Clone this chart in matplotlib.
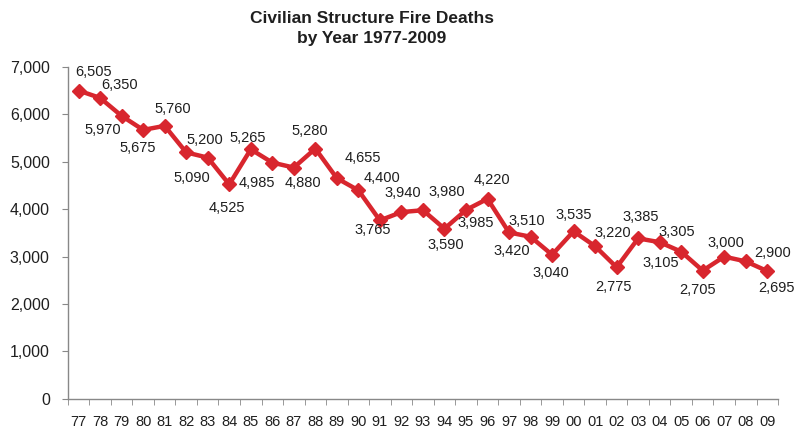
import numpy as np
import matplotlib
matplotlib.use("Agg")
import matplotlib.pyplot as plt
from matplotlib.ticker import FuncFormatter, MultipleLocator

plt.rcParams['font.family'] = ['Liberation Sans', 'DejaVu Sans']

# data
years = ['77', '78', '79', '80', '81', '82', '83', '84', '85', '86', '87',
         '88', '89', '90', '91', '92', '93', '94', '95', '96', '97', '98',
         '99', '00', '01', '02', '03', '04', '05', '06', '07', '08', '09']
deaths = [6505, 6350, 5970, 5675, 5760, 5200, 5090, 4525, 5265, 4985, 4880,
          5280, 4655, 4400, 3765, 3940, 3980, 3590, 3985, 4220, 3510, 3420,
          3040, 3535, 3220, 2775, 3385, 3305, 3105, 2705, 3000, 2900, 2695]

# label placement (pixels from the marker, x right / y up)
label_off = [(15, 19), (19, 13), (-19, -14), (-5, -18), (8, 17), (19, 12),
             (-16, -20), (-2, -24), (-3, 11), (-15, -20), (9, -15), (-6, 18),
             (26, 20), (24, 12), (-7, -10), (1, 19), (24, 18), (1, -16),
             (10, -13), (4, 19), (18, 11), (-19, -14), (-1, -18), (0, 16),
             (18, 13), (-3, -20), (3, 21), (17, 10), (-20, -11), (-5, -19),
             (2, 14), (27, 8), (9, -17)]

red = '#d8262e'
txt = '#1f1f1f'

fig = plt.figure(figsize=(7.98, 4.33), dpi=100)
ax = fig.add_axes([0.085, 0.079, 0.89, 0.766])

x = np.arange(len(years))
ax.plot(x, deaths, color=red, lw=3.2, marker='D', ms=7.5, mec=red, mfc=red, zorder=3)

for i, v in enumerate(deaths):
    dx, dy = label_off[i]
    ax.annotate(f'{v:,}', (x[i], v), xytext=(dx, dy), textcoords='offset pixels',
                ha='center', va='center', fontsize=10.5, color=txt,
                annotation_clip=False)

ax.set_xlim(-0.5, len(years) - 0.5)
ax.set_ylim(0, 7000)
ax.yaxis.set_major_locator(MultipleLocator(1000))
ax.yaxis.set_major_formatter(FuncFormatter(lambda v, p: f'{int(v):,}'))
ax.set_xticks(x)
ax.set_xticklabels(years)
ax.set_xticks(np.arange(-0.5, len(years)), minor=True)
ax.tick_params(axis='x', which='major', length=0, labelsize=10.5, labelcolor=txt, pad=12)
ax.tick_params(axis='x', which='minor', length=4, color='#888888', direction='out')
ax.tick_params(axis='y', length=4, color='#888888', labelsize=11.5, labelcolor=txt, pad=9)

for s in ['top', 'right']:
    ax.spines[s].set_visible(False)
for s in ['left', 'bottom']:
    ax.spines[s].set_color('#888888')
    ax.spines[s].set_linewidth(1)

fig.text(0.466, 0.958, 'Civilian Structure Fire Deaths', ha='center', va='center',
         fontsize=12.5, fontweight='bold', color=txt)
fig.text(0.466, 0.91, 'by Year 1977-2009', ha='center', va='center',
         fontsize=12.5, fontweight='bold', color=txt)

fig.savefig('out.png', dpi=100)
